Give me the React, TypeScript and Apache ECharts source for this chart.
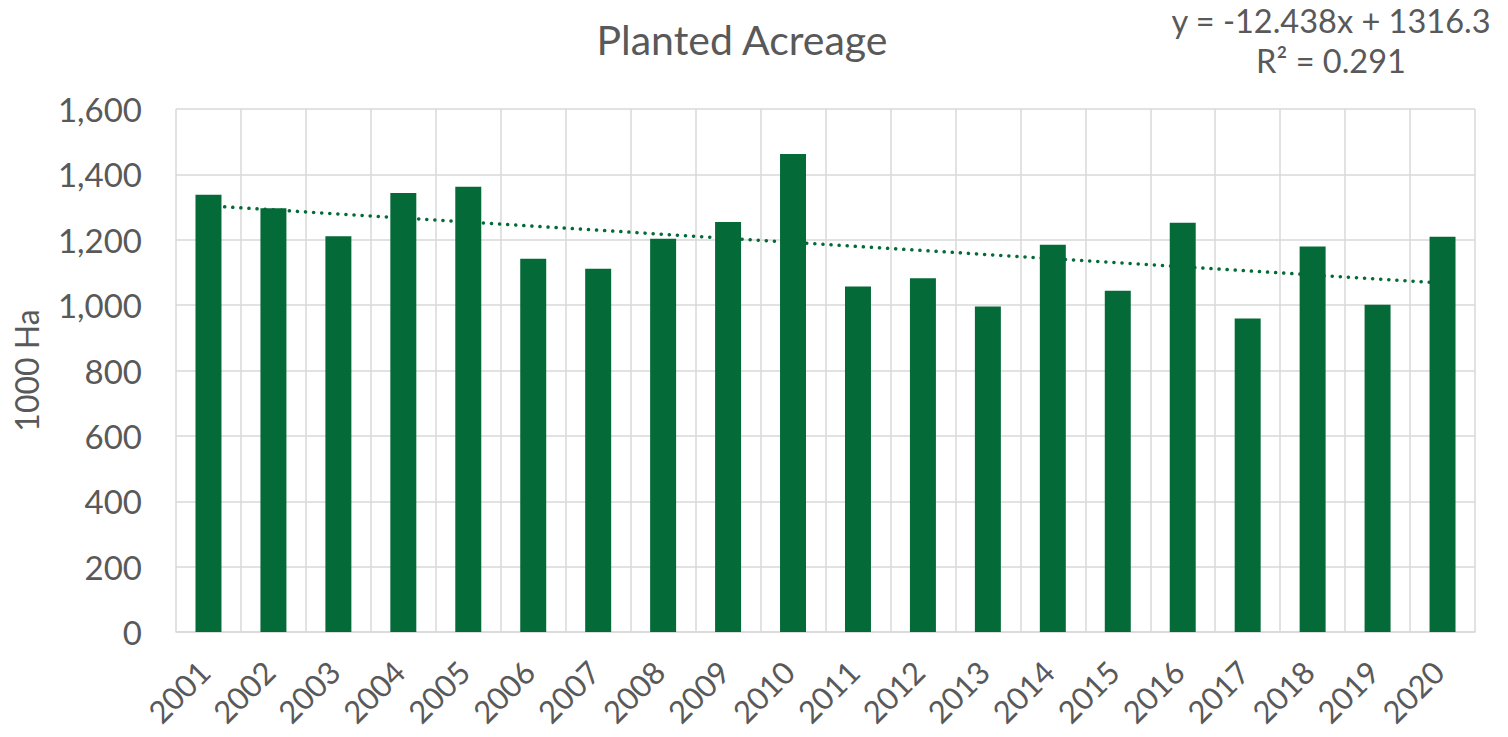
import React, { useEffect, useRef } from "react";
import * as echarts from "echarts";

const years = ["2001","2002","2003","2004","2005","2006","2007","2008","2009","2010","2011","2012","2013","2014","2015","2016","2017","2018","2019","2020"];
const acreage = [1338,1296,1211,1343,1362,1142,1111,1203,1254,1462,1057,1082,996,1185,1044,1252,959,1179,1001,1209];
const trendSlope = -12.438;
const trendIntercept = 1316.3;
const trendR2 = 0.291;
const yTicks = [0, 200, 400, 600, 800, 1000, 1200, 1400, 1600];

const FONT = "Lato";
const GREEN = "#046A38";
const GRAY = "#595959";

export default function App() {
  const ref = useRef<HTMLDivElement>(null);
  useEffect(() => {
    if (!ref.current) return;
    const chart = echarts.init(ref.current, null, { renderer: "svg" });
    const trend = years.map((_, i) => +(trendSlope * (i + 1) + trendIntercept).toFixed(2));
    chart.setOption({
      animation: false,
      backgroundColor: "#ffffff",
      textStyle: { fontFamily: FONT },
      title: {
        text: "Planted Acreage",
        left: 737,
        top: 14,
        textAlign: "center",
        textStyle: { fontFamily: FONT, fontSize: 41, fontWeight: "normal", color: GRAY },
      },
      graphic: [
        {
          type: "text",
          x: 1331,
          y: 0,
          style: {
            text: "y = " + trendSlope + "x + " + trendIntercept + "\nR² = " + trendR2,
            font: "32.5px " + FONT,
            fill: GRAY,
            textAlign: "center",
            lineHeight: 40,
          },
        },
      ],
      grid: { left: 176, right: 33, top: 109, bottom: 105, containLabel: false, outerBoundsMode: "none" },
      xAxis: {
        type: "category",
        data: years,
        axisLine: { show: true, lineStyle: { color: "#D9D9D9", width: 1.5 } },
        axisTick: { show: false },
        splitLine: { show: true, lineStyle: { color: "#D9D9D9", width: 1.5 } },
        axisLabel: {
          rotate: 45,
          interval: 0,
          margin: 30,
          padding: [0, 6, 0, 0],
          fontSize: 31,
          fontFamily: FONT,
          color: GRAY,
        },
      },
      yAxis: {
        type: "value",
        min: yTicks[0],
        max: yTicks[yTicks.length - 1],
        interval: 200,
        name: "1000 Ha",
        nameLocation: "middle",
        nameGap: 134,
        nameRotate: 90,
        nameTextStyle: { fontFamily: FONT, fontSize: 32, color: GRAY },
        axisLine: { show: false },
        axisTick: { show: false },
        splitLine: { show: true, lineStyle: { color: "#D9D9D9", width: 1.5 } },
        axisLabel: {
          margin: 34,
          fontSize: 33,
          fontFamily: FONT,
          color: GRAY,
          formatter: (v: number) => v.toLocaleString("en-US"),
        },
      },
      series: [
        {
          type: "bar",
          data: acreage,
          barCategoryGap: "60%",
          itemStyle: { color: GREEN },
          z: 2,
        },
        {
          type: "line",
          data: trend,
          symbol: "none",
          lineStyle: { color: GREEN, width: 3.5, type: [0.1, 8], cap: "round" },
          z: 3,
        },
      ],
    });
    return () => chart.dispose();
  }, []);
  return <div ref={ref} style={{ width: 1508, height: 737, position: "absolute", left: 0, top: 0 }} />;
}
